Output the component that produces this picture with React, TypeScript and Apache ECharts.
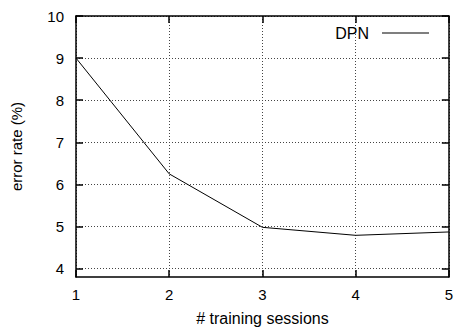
import React, { useEffect, useRef } from "react";
import * as echarts from "echarts";

const sessions = [1, 2, 3, 4, 5];
const dpnError = [9.0, 6.25, 4.98, 4.79, 4.87];
const yTicks = [4, 5, 6, 7, 8, 9, 10];
const xTicks = [1, 2, 3, 4, 5];
const seriesName = "DPN";

export default function App() {
  const ref = useRef<HTMLDivElement>(null);
  useEffect(() => {
    if (!ref.current) return;
    const chart = echarts.init(ref.current, null, { renderer: "svg" });
    const font = "'Liberation Sans', Arial, Helvetica, sans-serif";
    const frameLine = { show: true, onZero: false, lineStyle: { color: "#000", width: 1.5 } };
    const grid = { show: true, lineStyle: { color: "#444", width: 1, type: [1, 2] as any } };
    chart.setOption({
      animation: false,
      backgroundColor: "#fff",
      textStyle: { fontFamily: font },
      grid: { left: 76, right: 7, top: 16, bottom: 51, containLabel: false },
      legend: {
        show: true,
        right: 27,
        top: 25,
        padding: 0,
        align: "right",
        itemWidth: 47,
        itemHeight: 10,
        itemGap: 0,
        textStyle: { fontFamily: font, fontSize: 16, color: "#000", padding: [0, 8, 0, 0] },
        data: [{ name: seriesName, icon: "path://M0,5 L48,5 L48,6 L0,6 Z", itemStyle: { color: "#000" } }],
      },
      xAxis: [
        {
          type: "value",
          min: 1,
          max: 5,
          interval: 1,
          position: "bottom",
          name: "# training sessions",
          nameLocation: "middle",
          nameGap: 33,
          nameTextStyle: { fontFamily: font, fontSize: 16, color: "#000" },
          axisLine: frameLine,
          axisTick: { show: true, inside: true, length: 7, lineStyle: { color: "#000", width: 1.5 } },
          axisLabel: { fontFamily: font, fontSize: 15, color: "#000", margin: 10, customValues: xTicks },
          splitLine: grid,
        },
        {
          type: "value",
          min: 1,
          max: 5,
          interval: 1,
          position: "top",
          axisLine: frameLine,
          axisTick: { show: true, inside: true, length: 7, lineStyle: { color: "#000", width: 1.5 } },
          axisLabel: { show: false },
          splitLine: { show: false },
        },
      ],
      yAxis: [
        {
          type: "value",
          min: 3.8,
          max: 10,
          position: "left",
          name: "error rate (%)",
          nameLocation: "middle",
          nameGap: 52,
          nameTextStyle: { fontFamily: font, fontSize: 15, color: "#000" },
          axisLine: frameLine,
          axisTick: { show: true, inside: true, length: 7, customValues: yTicks, lineStyle: { color: "#000", width: 1.5 } },
          axisLabel: { fontFamily: font, fontSize: 15, color: "#000", margin: 12, customValues: yTicks },
          splitLine: grid,
        },
        {
          type: "value",
          min: 3.8,
          max: 10,
          position: "right",
          axisLine: frameLine,
          axisTick: { show: true, inside: true, length: 7, customValues: yTicks, lineStyle: { color: "#000", width: 1.5 } },
          axisLabel: { show: false, customValues: yTicks },
          splitLine: { show: false },
        },
      ],
      series: [
        {
          name: seriesName,
          type: "line",
          xAxisIndex: 0,
          yAxisIndex: 0,
          data: sessions.map((s, i) => [s, dpnError[i]]),
          symbol: "none",
          lineStyle: { color: "#000", width: 1 },
          itemStyle: { color: "#000" },
        },
      ],
    });
    return () => chart.dispose();
  }, []);
  return <div ref={ref} style={{ width: 456, height: 331, position: "absolute", left: 0, top: 0 }} />;
}
